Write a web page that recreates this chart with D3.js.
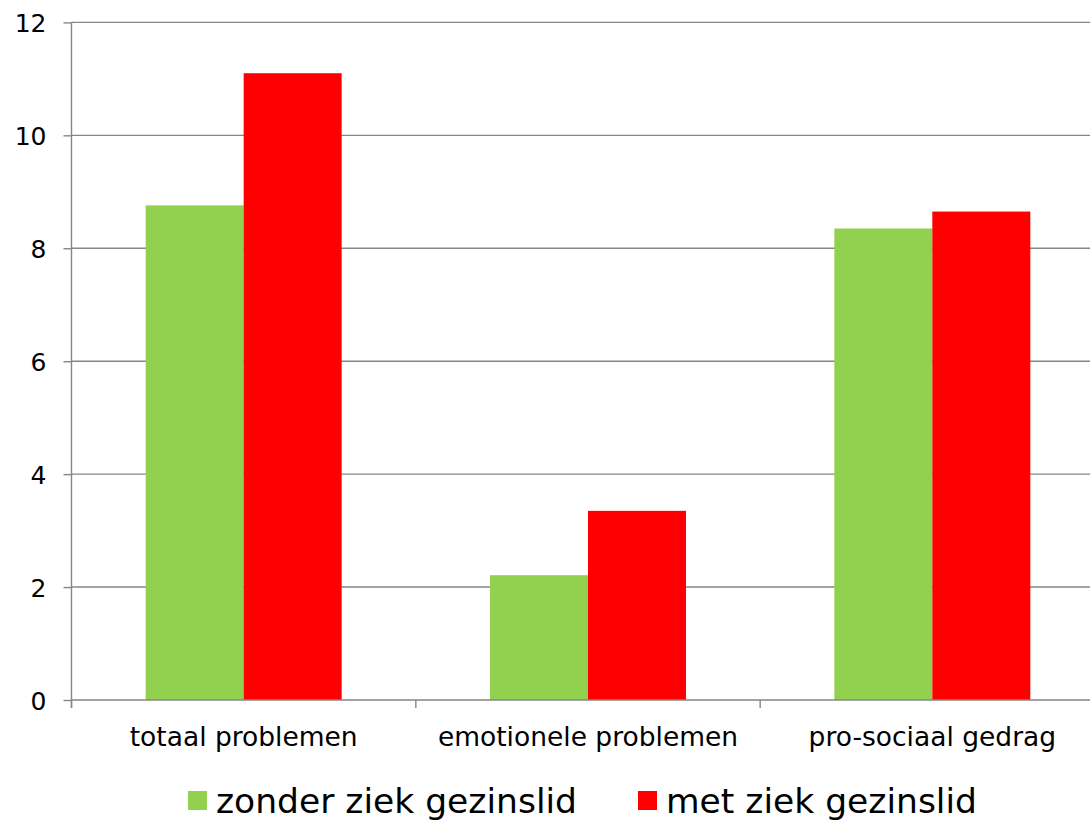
<!DOCTYPE html>
<html>
<head>
    <meta charset="utf-8" />
    <script src="https://d3js.org/d3.v7.min.js"></script>
    <style>
        body { margin: 0; background: #fff; }
        svg text { font-family: "DejaVu Sans", Verdana, sans-serif; fill: #000; }
    </style>
</head>
<body>
    <svg id="chart" width="1090" height="821"></svg>

    <script>
        // data
        var categories = ["totaal problemen", "emotionele problemen", "pro-sociaal gedrag"];
        var seriesNames = ["zonder ziek gezinslid", "met ziek gezinslid"];
        var zonderValues = [8.76, 2.21, 8.35];
        var metValues = [11.1, 3.35, 8.65];
        var yTicks = [0, 2, 4, 6, 8, 10, 12];
        var colours = ["#92D050", "#FF0000"];

        var rows = categories.map(function (c, i) {
            return { cat: c, values: [zonderValues[i], metValues[i]] };
        });

        var svg = d3.select("#chart");
        var plotLeft = 71.5, plotRight = 1104.5, plotTop = 22.4, plotBottom = 700;
        var axisColour = "#868686";

        var y = d3.scaleLinear().domain([0, 12]).range([plotBottom, plotTop]);

        var x0 = d3.scaleBand()
            .domain(categories)
            .range([plotLeft, plotRight])
            .padding(0);

        var x1 = d3.scaleBand()
            .domain(seriesNames)
            .range([0, x0.bandwidth()])
            .paddingInner(0)
            .paddingOuter(0.757);

        // gridlines
        svg.append("g")
            .selectAll("line")
            .data(yTicks.filter(function (d) { return d > 0; }))
            .enter().append("line")
            .attr("x1", plotLeft)
            .attr("x2", plotRight)
            .attr("y1", function (d) { return y(d); })
            .attr("y2", function (d) { return y(d); })
            .attr("stroke", axisColour)
            .attr("stroke-width", 1.4);

        // bars
        var groups = svg.append("g")
            .selectAll("g")
            .data(rows)
            .enter().append("g")
            .attr("transform", function (d) { return "translate(" + x0(d.cat) + ",0)"; });

        groups.selectAll("rect")
            .data(function (d) {
                return d.values.map(function (v, i) { return { name: seriesNames[i], value: v, idx: i }; });
            })
            .enter().append("rect")
            .attr("x", function (d) { return x1(d.name); })
            .attr("y", function (d) { return y(d.value); })
            .attr("width", x1.bandwidth())
            .attr("height", function (d) { return plotBottom - y(d.value); })
            .attr("fill", function (d) { return colours[d.idx]; });

        // y axis
        var yAxis = svg.append("g")
            .attr("transform", "translate(" + plotLeft + ",0)")
            .call(d3.axisLeft(y).tickValues(yTicks).tickSize(8).tickPadding(17).tickSizeOuter(0));
        yAxis.select(".domain").attr("stroke", axisColour).attr("stroke-width", 1.4)
            .attr("d", "M0," + plotTop + "V" + (plotBottom + 8));
        yAxis.selectAll(".tick line").attr("stroke", axisColour).attr("stroke-width", 1.4);
        yAxis.selectAll(".tick text")
            .style("font-size", "25px")
            .attr("dy", "0.36em");

        // x axis
        svg.append("line")
            .attr("x1", plotLeft).attr("x2", plotRight)
            .attr("y1", plotBottom).attr("y2", plotBottom)
            .attr("stroke", axisColour).attr("stroke-width", 1.4);

        svg.append("g")
            .selectAll("line")
            .data(categories)
            .enter().append("line")
            .attr("x1", function (d) { return x0(d); })
            .attr("x2", function (d) { return x0(d); })
            .attr("y1", plotBottom)
            .attr("y2", plotBottom + 8)
            .attr("stroke", axisColour)
            .attr("stroke-width", 1.4);

        svg.append("g")
            .selectAll("text")
            .data(categories)
            .enter().append("text")
            .attr("x", function (d) { return x0(d) + x0.bandwidth() / 2; })
            .attr("y", 745.5)
            .attr("text-anchor", "middle")
            .style("font-size", "26.5px")
            .text(function (d) { return d; });

        // legend
        var legendX = [188, 638];
        var legend = svg.append("g")
            .selectAll("g")
            .data(seriesNames)
            .enter().append("g")
            .attr("transform", function (d, i) { return "translate(" + legendX[i] + ",791)"; });

        legend.append("rect")
            .attr("width", 19)
            .attr("height", 19)
            .attr("fill", function (d, i) { return colours[i]; });

        legend.append("text")
            .attr("x", 28)
            .attr("y", 22)
            .style("font-size", "34.5px")
            .text(function (d) { return d; });
    </script>
</body>
</html>
